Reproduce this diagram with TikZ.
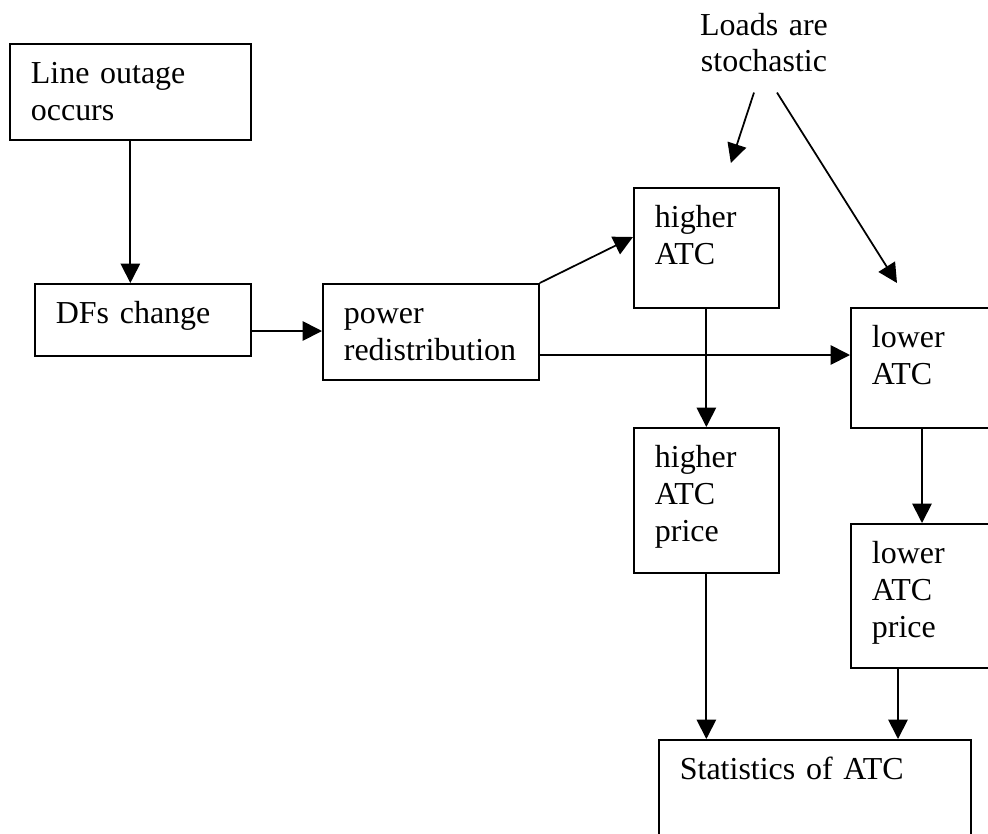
\documentclass[tikz,border=0pt]{standalone}
\usepackage{fontspec}
\setmainfont{Liberation Serif}
\usetikzlibrary{arrows.meta, positioning, calc}

\begin{document}
\begin{tikzpicture}[
                x=0.02cm, y=-0.02cm,
                caja/.style={
                    rectangle,
                    draw=black,
                    line width=1pt,
                    anchor=north west,
                    align=left,
                    font=\fontsize{18.2}{21}\selectfont,
                    inner xsep=0.42cm,
                    inner ysep=0pt,
                    text height=0.8cm
                },
                flecha/.style={
                    line width=1pt,
                    -{Triangle[length=11pt, width=11pt]}
                }
            ]
                \useasboundingbox (0,0) rectangle (988,833);
                \clip (0,0) rectangle (988,833);

                % cajas
                \node[caja, text width=3.98cm, text depth=1.12cm] (out) at (9,43) {Line outage\\occurs};
                \node[caja, text width=3.48cm, text depth=0.64cm] (dfs) at (34,283) {DFs change};
                \node[caja, text width=3.48cm, text depth=1.12cm] (pow) at (322,283) {power\\redistribution};
                \node[caja, text width=2.06cm, text depth=1.6cm] (hi) at (633,187) {higher\\ATC};
                \node[caja, text width=2.36cm, text depth=1.6cm] (lo) at (850,307) {lower\\ATC};
                \node[caja, text width=2.06cm, text depth=2.1cm] (hip) at (633,427) {higher\\ATC\\price};
                \node[caja, text width=2.36cm, text depth=2.08cm] (lop) at (850,523) {lower\\ATC\\price};
                \node[caja, text width=5.4cm, text depth=2cm] (st) at (658,739) {Statistics of ATC};
                \node[font=\fontsize{18.2}{21}\selectfont, text width=3cm, align=center, inner sep=0pt, anchor=base] (ld) at (764,35) {Loads are\\stochastic};

                % flechas
                \draw[flecha] (out.south) -- (out.south |- dfs.north);
                \coordinate (d1) at ($(dfs.north east)+(0,48)$);
                \draw[flecha] (d1) -- (d1 -| pow.west);
                \draw[flecha] (pow.north east) -- ($(hi.north west)+(0,50)$);
                \coordinate (p1) at ($(pow.north east)+(0,72)$);
                \draw[flecha] (p1) -- (p1 -| lo.west);
                \draw[flecha] (hi.south) -- (hip.north);
                \coordinate (l1) at ($(lo.south west)+(72,0)$);
                \draw[flecha] (l1) -- (l1 |- lop.north);
                \draw[flecha] (hip.south) -- (hip.south |- st.north);
                \coordinate (l2) at ($(lop.south west)+(48,0)$);
                \draw[flecha] (l2) -- (l2 |- st.north);
                \draw[flecha] ($(ld.south)+(-10,20)$) -- ($(hi.north)+(24.5,-24)$);
                \draw[flecha] ($(ld.south)+(13,20)$) -- ($(lo.north west)+(47,-24)$);
            \end{tikzpicture}
\end{document}
